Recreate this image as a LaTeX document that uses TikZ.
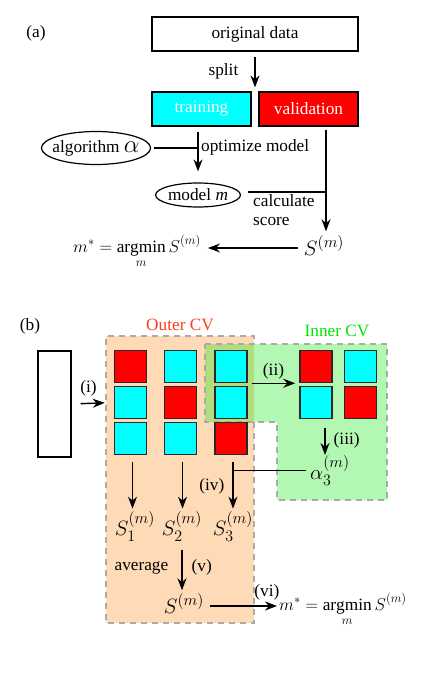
\documentclass[tikz,border=0pt]{standalone}
\usepackage{fix-cm}
\usepackage{amsmath}
\usepackage{fontspec}
\setmainfont{Liberation Serif}
\usetikzlibrary{arrows.meta, shapes.geometric}
\DeclareMathSizes{20.74}{20.74}{16}{12}
\DeclareMathSizes{17.28}{17.28}{12.5}{10}
\definecolor{outerred}{RGB}{255, 60, 30}
\definecolor{innergreen}{RGB}{0, 230, 0}
\definecolor{peach}{RGB}{255, 218, 182}
\definecolor{dashgray}{RGB}{170, 170, 170}
\definecolor{squareedge}{RGB}{40, 40, 40}
\definecolor{foldcyan}{RGB}{0, 255, 255}
\definecolor{foldred}{RGB}{255, 0, 0}
\tikzstyle{flow_text}=[inner sep=1pt, font=\fontsize{17.28}{19}\selectfont]
\tikzstyle{big_math}=[inner sep=0pt, font=\fontsize{20.74}{24}\selectfont]
\tikzstyle{flow_box}=[rectangle, draw=black, line width=1.2pt, minimum height=34pt,
    font=\fontsize{17.28}{19}\selectfont]
\tikzstyle{flow_ellipse}=[ellipse, draw=black, line width=1.2pt, inner sep=0pt,
    font=\fontsize{17.28}{19}\selectfont]
\tikzstyle{flow_arrow}=[line width=1.4pt, -{Stealth[length=12pt, width=9pt]}]
\tikzstyle{flow_line}=[line width=1.2pt]
\tikzstyle{cv_square}=[rectangle, draw=squareedge, line width=1.5pt, minimum size=32pt, inner sep=0pt]
\tikzstyle{cv_region}=[draw=dashgray, dash pattern=on 6pt off 5pt, line width=1.5pt]

\begin{document}
\begin{tikzpicture}[x=1pt, y=-1pt]
  \useasboundingbox (0,0) rectangle (435,675);

  % ---------- (a) plain validation ----------
  \node[flow_text] (tag_a) at (36,33) {(a)};
  \node[flow_box, minimum width=206pt] (original) at (255,34) {original data};
  \node[flow_box, minimum width=99pt, fill=foldcyan, text=white] (training) at (201.5,109) {training};
  \node[flow_box, minimum width=99pt, fill=foldred, text=white] (validation) at (308.5,109) {validation};
  \node[flow_ellipse, minimum height=33pt, inner xsep=-5pt] (algorithm) at (96,148)
    {algorithm {\fontsize{24.88}{28}\selectfont$\alpha$}};
  \node[flow_ellipse, minimum height=24pt] (model) at (198,195) {model \textit{m}};
  \node[big_math, anchor=base] (score_a) at (324,255) {$S^{(m)}$};
  \node[flow_text, anchor=base] (best_a) at (137,252) {$m^*=\displaystyle\operatorname*{argmin}_m S^{(m)}$};

  % Split the data
  \draw[flow_arrow, shorten <=5pt, shorten >=4pt] (original.south) -- (original.south |- training.north)
    node[flow_text, midway, anchor=east, xshift=-15pt] (split_label) {split};

  % Optimize the model with the algorithm
  \coordinate (opt_join) at (198,148);
  \draw[flow_arrow, shorten <=5pt, shorten >=11pt] (training.south -| model.north) -- (model.north);
  \draw[flow_line, shorten <=3pt] (algorithm.east) -- (opt_join);
  \node[flow_text, anchor=west] (optimize_label) at (200,147) {optimize model};

  % Score on the validation part
  \coordinate (calc_join) at (326,192);
  \draw[flow_arrow, shorten <=3pt, shorten >=4pt] (validation.south -| calc_join) -- (calc_join |- score_a.north);
  \draw[flow_line, shorten <=7pt] (model.east |- calc_join) -- (calc_join);
  \node[flow_text, anchor=north west, align=left] (calc_label) at (252,193) {calculate\\score};

  % Pick the best model
  \draw[flow_arrow, shorten <=6pt, shorten >=6pt] ([yshift=7pt]score_a.base west) -- ([yshift=7pt]score_a.base west -| best_a.east);

  % ---------- (b) nested cross validation ----------
  \node[flow_text] (tag_b) at (30,326) {(b)};
  \node[flow_text, text=outerred] (outer_label) at (180,325) {Outer CV};
  \node[flow_text, text=innergreen] (inner_label) at (337,331) {Inner CV};

  % Shaded regions for the two loops
  % the outer border is left out where the inner region covers it
  \fill[peach] (106,336) rectangle (254,623);
  \draw[cv_region] (254,422) -- (254,623) -- (106,623) -- (106,336) -- (254,336) -- (254,344);
  \draw[cv_region, fill=innergreen, fill opacity=0.3] (205,344) -- (387,344) -- (387,500)
    -- (277,500) -- (277,422) -- (205,422) -- cycle;

  % Full data set
  \node[flow_box, minimum width=33pt, minimum height=106pt] (data_b) at (54.5,404) {};

  % Outer folds, the red square is held out
  \foreach \c/\x/\colA/\colB/\colC in {1/130.5/foldred/foldcyan/foldcyan, 2/180.5/foldcyan/foldred/foldcyan, 3/231/foldcyan/foldcyan/foldred} {
      \node[cv_square, fill=\colA] (outer_\c_1) at (\x,366.5) {};
      \node[cv_square, fill=\colB] (outer_\c_2) at (\x,402.5) {};
      \node[cv_square, fill=\colC] (outer_\c_3) at (\x,438.5) {};
  }
  % Inner folds
  \foreach \c/\x/\colA/\colB in {1/316/foldred/foldcyan, 2/360.5/foldcyan/foldred} {
      \node[cv_square, fill=\colA] (inner_\c_1) at (\x,366.5) {};
      \node[cv_square, fill=\colB] (inner_\c_2) at (\x,402.5) {};
  }

  % Scores of the outer folds
  \node[big_math, anchor=base] (score_1) at (135,535) {$S_1^{(m)}$};
  \node[big_math, anchor=base] (score_2) at (182,535) {$S_2^{(m)}$};
  \node[big_math, anchor=base] (score_3) at (233,535) {$S_3^{(m)}$};
  \node[big_math, anchor=base] (score_b) at (184,613) {$S^{(m)}$};
  \node[big_math, anchor=base west, inner sep=4pt] (alpha_b) at (306,479) {$\alpha_3^{(m)}$};
  \node[flow_text, anchor=base west] (best_b) at (278,610) {$m^*=\displaystyle\operatorname*{argmin}_m S^{(m)}$};

  % (i) split into folds
  \draw[flow_arrow, shorten <=9pt, shorten >=9pt] (data_b.east) -- (outer_1_2.west)
    node[flow_text, pos=0.4, above=6pt] (i_label) {(i)};

  % (ii) inner split of the training part
  \draw[flow_arrow, shorten <=4pt, shorten >=4pt] (outer_3_1.south east) -- (inner_1_1.south west)
    node[flow_text, midway, above=2pt] (ii_label) {(ii)};

  % (iii) hyperparameters from the inner loop
  \coordinate (alpha_top) at (325,455);
  \draw[flow_arrow, shorten <=9pt] (inner_1_2.south -| alpha_top) -- (alpha_top)
    node[flow_text, pos=0.6, right=7pt] (iii_label) {(iii)};

  % (iv) scores on the held out folds
  \foreach \c in {1,2} {
      \draw[flow_arrow, shorten <=7pt, shorten >=3pt] ([xshift=2pt]outer_\c_3.south) -- ([xshift=2pt]outer_\c_3.south |- score_\c.north);
  }
  \draw[flow_arrow, shorten <=7pt, shorten >=3pt] ([xshift=2pt]outer_3_3.south) -- ([xshift=2pt]outer_3_3.south |- score_3.north)
    node[flow_text, pos=0.55, left=7pt] (iv_label) {(iv)};
  \coordinate (iv_join) at ([xshift=2pt]outer_3_3.south |- alpha_b.west);
  \draw[flow_line] (alpha_b.west) -- (iv_join);

  % (v) average the fold scores
  \draw[flow_arrow, shorten <=8pt, shorten >=3pt] (score_2.south) -- (score_2.south |- score_b.north)
    node[flow_text, midway, left=12pt] (average_label) {average}
    node[flow_text, midway, right=8pt] (v_label) {(v)};

  % (vi) pick the best model
  \draw[flow_arrow, shorten <=6pt, shorten >=1pt] ([yshift=7pt]score_b.base east) -- ([yshift=7pt]score_b.base east -| best_b.west)
    node[flow_text, pos=0.85, above=4pt] (vi_label) {(vi)};

\end{tikzpicture}
\end{document}
